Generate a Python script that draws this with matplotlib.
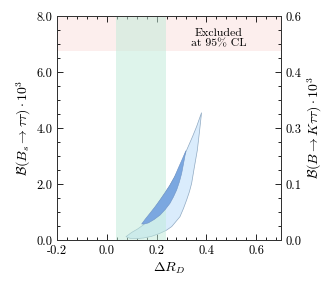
import numpy as np
import matplotlib
matplotlib.use("Agg")
import matplotlib.pyplot as plt
from matplotlib.ticker import MultipleLocator, FixedLocator

plt.rcParams['font.family'] = 'serif'
plt.rcParams['font.serif'] = ['cmr10', 'DejaVu Serif']
plt.rcParams['mathtext.fontset'] = 'cm'
plt.rcParams['axes.formatter.use_mathtext'] = True

# bands
excl_y = [6.76, 8.0]
band_x = [0.037, 0.238]

# outer contour (upper edge, then lower edge back)
outer_up_x = [0.077, 0.100, 0.125, 0.147, 0.180, 0.214, 0.250, 0.281, 0.302, 0.321, 0.345, 0.361, 0.381]
outer_up_y = [0.12, 0.27, 0.40, 0.54, 0.95, 1.43, 1.90, 2.38, 2.78, 3.21, 3.70, 4.05, 4.55]
outer_lo_x = [0.381, 0.373, 0.364, 0.352, 0.341, 0.332, 0.321, 0.308, 0.294, 0.261, 0.240, 0.214, 0.180, 0.147, 0.120, 0.093, 0.077]
outer_lo_y = [4.55, 3.90, 3.21, 2.60, 2.02, 1.72, 1.43, 1.12, 0.83, 0.48, 0.35, 0.24, 0.13, 0.07, 0.05, 0.06, 0.12]

# inner contour
inner_up_x = [0.140, 0.155, 0.173, 0.195, 0.214, 0.235, 0.254, 0.272, 0.287, 0.303, 0.318]
inner_up_y = [0.57, 0.75, 0.95, 1.20, 1.43, 1.70, 1.96, 2.25, 2.56, 2.88, 3.19]
inner_lo_x = [0.318, 0.310, 0.301, 0.292, 0.281, 0.268, 0.254, 0.235, 0.214, 0.190, 0.167, 0.150, 0.140]
inner_lo_y = [3.19, 2.80, 2.38, 2.08, 1.79, 1.54, 1.31, 1.09, 0.89, 0.73, 0.61, 0.57, 0.57]

right_ticks = [0.0, 0.15, 0.30, 0.45, 0.60]
right_labels = ['0.0', '0.1', '0.3', '0.4', '0.6']

fig = plt.figure(figsize=(3.32, 2.82), dpi=100)
ax = fig.add_axes([0.172, 0.149, 0.674, 0.794])

ax.fill(outer_up_x + outer_lo_x, outer_up_y + outer_lo_y, facecolor='#daecfc',
        edgecolor='#8fa9c2', lw=0.5, zorder=2)
ax.axvspan(band_x[0], band_x[1], color='#bfebd9', alpha=0.5, lw=0, zorder=3)
ax.fill(inner_up_x + inner_lo_x, inner_up_y + inner_lo_y, facecolor='#7ba7e0',
        edgecolor='#6f93c4', lw=0.4, zorder=4)

ax.axhspan(excl_y[0], excl_y[1], color='#f7c4c0', alpha=0.28, lw=0, zorder=1)

ax.text(0.45, 7.21, 'Excluded\nat 95% CL', ha='center', va='center',
        fontsize=8.5, linespacing=1.1, zorder=5)

ax.set_xlim(-0.2, 0.7)
ax.set_ylim(0, 8)
ax.xaxis.set_major_locator(MultipleLocator(0.2))
ax.xaxis.set_minor_locator(MultipleLocator(0.04))
ax.yaxis.set_major_locator(MultipleLocator(2))
ax.yaxis.set_minor_locator(MultipleLocator(0.5))
ax.xaxis.set_major_formatter(matplotlib.ticker.FormatStrFormatter('%.1f'))
ax.yaxis.set_major_formatter(matplotlib.ticker.FormatStrFormatter('%.1f'))
ax.tick_params(which='both', direction='in', top=True, right=False, labelsize=9, width=0.6)
ax.tick_params(which='major', length=4)
ax.tick_params(which='minor', length=2)
ax.set_xlabel(r'$\Delta R_D$', fontsize=10, labelpad=3)
ax.set_ylabel(r'$\mathcal{B}(B_s\to\tau\tau)\cdot10^3$', fontsize=10, labelpad=2)

ax2 = ax.twinx()
ax2.set_ylim(0, 0.6)
ax2.yaxis.set_major_locator(FixedLocator(right_ticks))
ax2.set_yticklabels(right_labels)
ax2.yaxis.set_minor_locator(MultipleLocator(0.0375))
ax2.tick_params(which='both', direction='in', labelsize=9, width=0.6)
ax2.tick_params(which='major', length=4)
ax2.tick_params(which='minor', length=2)
ax2.set_ylabel(r'$\mathcal{B}(B\to K\tau\tau)\cdot10^3$', fontsize=10, labelpad=3)

for a in (ax, ax2):
    for s in a.spines.values():
        s.set_linewidth(0.7)
        s.set_color('#333333')

fig.savefig('out.png', dpi=100)
